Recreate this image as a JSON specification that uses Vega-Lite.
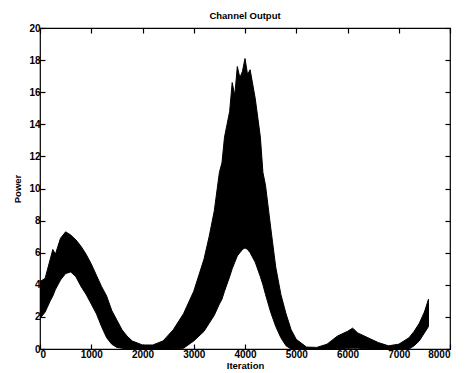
{
  "$schema": "https://vega.github.io/schema/vega-lite/v6.json",
  "autosize": "none",
  "width": 410,
  "height": 321,
  "padding": {"left": 40, "top": 28, "right": 15, "bottom": 24},
  "background": "white",
  "title": {"text": "Channel Output", "fontSize": 9.5, "fontWeight": "bold", "font": "Liberation Sans", "offset": 3, "color": "black"},
  "config": {
    "view": {"stroke": "black", "strokeWidth": 1.2},
    "axis": {"grid": false, "domain": false, "tickColor": "black", "tickWidth": 1.2, "tickSize": -5, "labelColor": "black", "labelFont": "Liberation Sans", "labelFontWeight": "bold", "labelFontSize": 10, "titleFont": "Liberation Sans", "titleFontWeight": "bold", "titleFontSize": 9.5, "titleColor": "black", "format": "d"}
  },
  "data": {"values": [
    {"it": 0, "lo": 1.9, "hi": 4.2},
    {"it": 100, "lo": 2.3, "hi": 4.4},
    {"it": 200, "lo": 3.0, "hi": 5.6},
    {"it": 250, "lo": 3.3, "hi": 6.2},
    {"it": 300, "lo": 3.7, "hi": 5.9},
    {"it": 400, "lo": 4.3, "hi": 6.9},
    {"it": 500, "lo": 4.7, "hi": 7.3},
    {"it": 600, "lo": 4.8, "hi": 7.1},
    {"it": 700, "lo": 4.5, "hi": 6.8},
    {"it": 800, "lo": 3.9, "hi": 6.4},
    {"it": 900, "lo": 3.4, "hi": 5.9},
    {"it": 1000, "lo": 2.8, "hi": 5.3},
    {"it": 1100, "lo": 2.2, "hi": 4.6},
    {"it": 1200, "lo": 1.4, "hi": 3.9},
    {"it": 1300, "lo": 0.7, "hi": 3.3},
    {"it": 1400, "lo": 0.3, "hi": 2.4},
    {"it": 1500, "lo": 0.1, "hi": 1.8},
    {"it": 1600, "lo": 0.05, "hi": 1.2},
    {"it": 1700, "lo": 0.0, "hi": 0.8},
    {"it": 1800, "lo": 0.0, "hi": 0.5},
    {"it": 2000, "lo": 0.0, "hi": 0.25},
    {"it": 2200, "lo": 0.0, "hi": 0.25},
    {"it": 2400, "lo": 0.0, "hi": 0.5},
    {"it": 2600, "lo": 0.0, "hi": 1.2},
    {"it": 2800, "lo": 0.05, "hi": 2.2},
    {"it": 3000, "lo": 0.5, "hi": 3.6},
    {"it": 3200, "lo": 1.1, "hi": 5.6},
    {"it": 3300, "lo": 1.6, "hi": 7.0},
    {"it": 3400, "lo": 2.1, "hi": 8.6},
    {"it": 3500, "lo": 2.8, "hi": 11.0},
    {"it": 3550, "lo": 3.1, "hi": 11.6},
    {"it": 3600, "lo": 3.6, "hi": 13.2},
    {"it": 3700, "lo": 4.5, "hi": 14.8},
    {"it": 3750, "lo": 5.0, "hi": 16.6},
    {"it": 3800, "lo": 5.4, "hi": 15.8},
    {"it": 3850, "lo": 5.8, "hi": 17.6},
    {"it": 3900, "lo": 6.0, "hi": 16.9},
    {"it": 3950, "lo": 6.2, "hi": 17.3},
    {"it": 4000, "lo": 6.3, "hi": 18.1},
    {"it": 4050, "lo": 6.2, "hi": 17.1},
    {"it": 4100, "lo": 6.0, "hi": 17.4},
    {"it": 4200, "lo": 5.4, "hi": 15.6},
    {"it": 4300, "lo": 4.5, "hi": 13.2},
    {"it": 4350, "lo": 4.0, "hi": 11.0},
    {"it": 4400, "lo": 3.4, "hi": 10.2},
    {"it": 4500, "lo": 2.3, "hi": 7.6},
    {"it": 4600, "lo": 1.4, "hi": 5.1},
    {"it": 4700, "lo": 0.7, "hi": 3.4},
    {"it": 4800, "lo": 0.2, "hi": 2.2},
    {"it": 4900, "lo": 0.0, "hi": 1.2},
    {"it": 5000, "lo": 0.0, "hi": 0.6},
    {"it": 5200, "lo": 0.0, "hi": 0.12},
    {"it": 5400, "lo": 0.0, "hi": 0.1},
    {"it": 5600, "lo": 0.0, "hi": 0.3},
    {"it": 5800, "lo": 0.0, "hi": 0.8},
    {"it": 6000, "lo": 0.05, "hi": 1.1},
    {"it": 6100, "lo": 0.05, "hi": 1.3},
    {"it": 6200, "lo": 0.05, "hi": 1.0},
    {"it": 6400, "lo": 0.0, "hi": 0.7},
    {"it": 6600, "lo": 0.0, "hi": 0.4},
    {"it": 6800, "lo": 0.0, "hi": 0.2},
    {"it": 7000, "lo": 0.0, "hi": 0.3},
    {"it": 7200, "lo": 0.0, "hi": 0.7},
    {"it": 7300, "lo": 0.2, "hi": 1.1},
    {"it": 7400, "lo": 0.5, "hi": 1.6},
    {"it": 7500, "lo": 1.0, "hi": 2.3},
    {"it": 7580, "lo": 1.4, "hi": 3.1}
  ]},
  "layer": [
    {
      "mark": {"type": "area", "color": "black", "stroke": "black", "strokeWidth": 1, "clip": true},
      "encoding": {
        "x": {"field": "it", "type": "quantitative", "scale": {"domain": [0, 8000], "nice": false}, "axis": {"title": "Iteration", "values": [0,1000,2000,3000,4000,5000,6000,7000,8000], "titlePadding": 1, "labelPadding": 5}},
        "y": {"field": "hi", "type": "quantitative", "scale": {"domain": [0, 20], "nice": false}, "axis": {"title": "Power", "values": [0,2,4,6,8,10,12,14,16,18,20], "titlePadding": 6, "labelPadding": 5}},
        "y2": {"field": "lo"}
      }
    },
    {
      "mark": {"type": "point", "opacity": 0},
      "encoding": {
        "x": {"field": "it", "type": "quantitative", "scale": {"domain": [0, 8000], "nice": false}, "axis": {"orient": "top", "labels": false, "title": null, "values": [0,1000,2000,3000,4000,5000,6000,7000,8000]}},
        "y": {"field": "hi", "type": "quantitative", "scale": {"domain": [0, 20], "nice": false}, "axis": {"orient": "right", "labels": false, "title": null, "values": [0,2,4,6,8,10,12,14,16,18,20]}}
      }
    }
  ],
  "resolve": {"scale": {"x": "independent", "y": "independent"}, "axis": {"x": "independent", "y": "independent"}}
}
